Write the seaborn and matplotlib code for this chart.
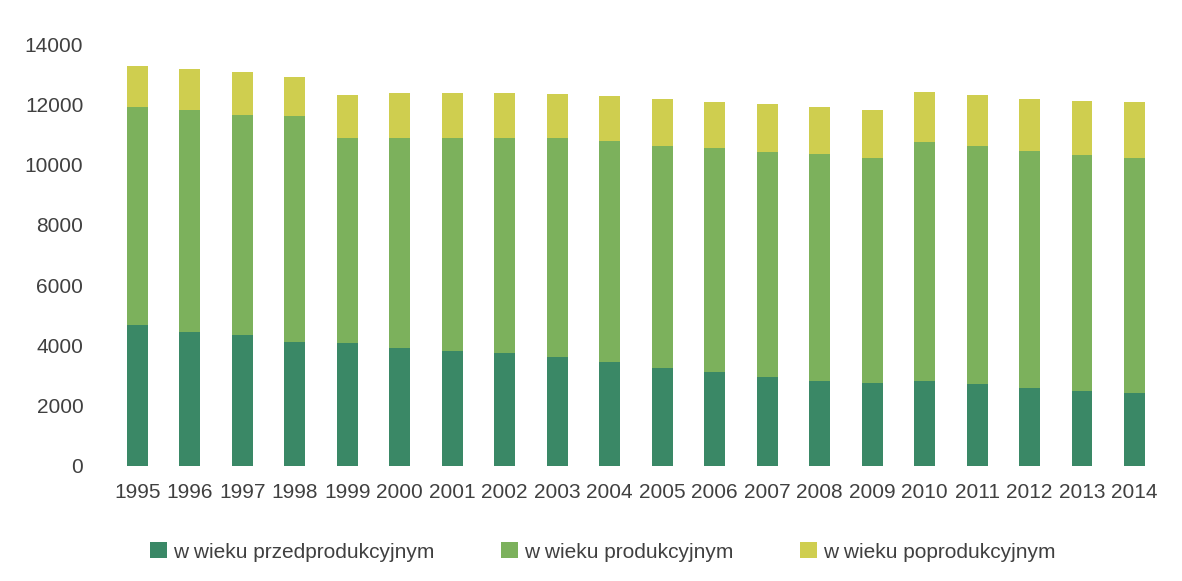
import matplotlib
matplotlib.use("Agg")
import matplotlib.pyplot as plt
import seaborn as sns
import pandas as pd
import numpy as np
from matplotlib.patches import Patch

years = ["1995", "1996", "1997", "1998", "1999", "2000", "2001", "2002", "2003", "2004",
         "2005", "2006", "2007", "2008", "2009", "2010", "2011", "2012", "2013", "2014"]
przed = [4680, 4460, 4350, 4120, 4080, 3930, 3830, 3740, 3610, 3440,
         3260, 3130, 2960, 2830, 2740, 2820, 2720, 2600, 2500, 2410]
prod = [7240, 7350, 7300, 7500, 6820, 6960, 7070, 7160, 7260, 7340,
        7370, 7410, 7470, 7520, 7470, 7940, 7900, 7860, 7820, 7820]
poprod = [1350, 1380, 1430, 1300, 1410, 1480, 1490, 1470, 1470, 1510,
          1540, 1550, 1570, 1550, 1600, 1640, 1690, 1720, 1790, 1840]
labels = ["w wieku przedprodukcyjnym", "w wieku produkcyjnym", "w wieku poprodukcyjnym"]
colors = ["#3a8866", "#7cb15c", "#cfce4f"]

sns.set_theme(style="white")
plt.rcParams['font.family'] = ['Liberation Sans', 'DejaVu Sans']

df = pd.DataFrame({"year": years, "przed": przed, "prod": prod, "poprod": poprod})
df["c1"] = df["przed"]
df["c2"] = df["przed"] + df["prod"]
df["c3"] = df["c2"] + df["poprod"]

fig = plt.figure(figsize=(11.82, 5.81), dpi=100)
ax = fig.add_axes([0.094, 0.198, 0.888, 0.726])

for col, c in [("c3", colors[2]), ("c2", colors[1]), ("c1", colors[0])]:
    sns.barplot(data=df, x="year", y=col, color=c, width=0.4, ax=ax,
                saturation=1, linewidth=0, errorbar=None)

ax.set_ylim(0, 14000)
ax.set_xlim(-0.5, len(years) - 0.5)
ax.set_yticks(range(0, 14001, 2000))
ax.set_xlabel("")
ax.set_ylabel("")
for s in ax.spines.values():
    s.set_visible(False)
ax.tick_params(axis="y", labelsize=15, labelcolor="#404040", pad=20, length=0)
ax.tick_params(axis="x", labelsize=15, labelcolor="#404040", pad=12, length=0)

handles = [Patch(facecolor=c, edgecolor="none") for c in colors]
fig.legend(handles, labels, loc="center", bbox_to_anchor=(0.51, 0.05), ncol=3,
           frameon=False, fontsize=15, handlelength=0.8, handleheight=0.8,
           columnspacing=3.2, handletextpad=0.3, labelcolor="#404040")

fig.savefig("out.png", dpi=100)
